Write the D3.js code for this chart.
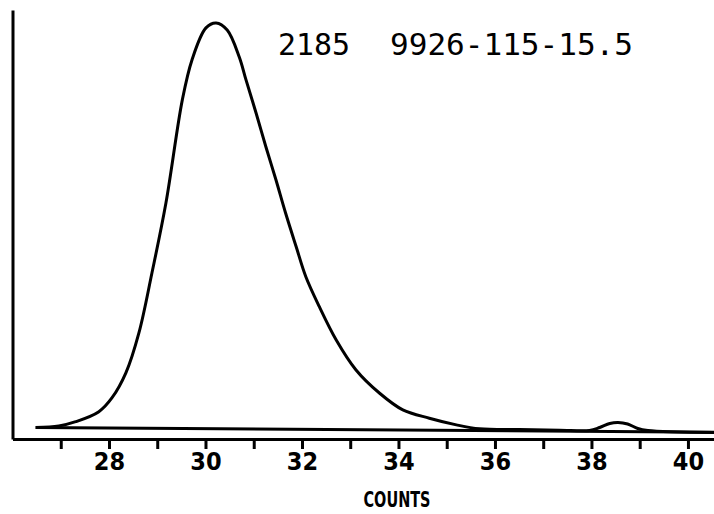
<!DOCTYPE html>
<html>
<head>
<meta charset="utf-8">
<script src="https://cdn.jsdelivr.net/npm/d3@7"></script>
<style>
  html, body { margin: 0; padding: 0; background: #fff; }
  svg { display: block; }
</style>
</head>
<body>
<svg id="chart" width="714" height="514"></svg>
<script>
// ---- data ----
const titleLeft = "2185";
const titleRight = "9926-115-15.5";
const xLabel = "COUNTS";
const tickValues = [27, 28, 29, 30, 31, 32, 33, 34, 35, 36, 37, 38, 39, 40];
const tickLabels = ["", "28", "", "30", "", "32", "", "34", "", "36", "", "38", "", "40"];

const counts = [26.48, 26.96, 27.31, 27.79, 28.06, 28.35, 28.62, 28.89, 29.18, 29.52, 29.72, 30.01, 30.22, 30.45, 30.70, 30.84, 31.05, 31.25, 31.46, 31.66, 31.88, 32.08, 32.36, 32.71, 33.12, 33.61, 34.09, 34.64, 35.20, 35.68, 36.51, 37.34, 37.96, 38.17, 38.38, 38.55, 38.75, 38.96, 39.17, 40.54];
const response = [2.76, 3.13, 4.16, 6.56, 9.86, 15.9, 25.5, 39.9, 56.7, 81.5, 91.1, 98.8, 100, 98.3, 91.8, 86.3, 78.3, 70.3, 62.3, 54.3, 46.2, 39.0, 31.8, 23.8, 16.6, 11.0, 7.0, 5.0, 3.4, 2.45, 2.26, 2.12, 2.04, 2.76, 3.73, 3.97, 3.61, 2.52, 2.04, 1.56];

const baselineCounts = [26.48, 40.54];
const baselineResponse = [2.76, 1.61];

// ---- chart ----
const svg = d3.select("#chart");
const x = d3.scaleLinear().domain([26, 40.54]).range([12.5, 714]);
const y = d3.scaleLinear().domain([0, 103.1]).range([439, 10]);

// y axis (no ticks)
const yAxis = svg.append("g")
  .attr("transform", `translate(${x(26)},0)`)
  .call(d3.axisLeft(y).tickValues([]).tickSizeOuter(0));
yAxis.select(".domain").attr("stroke", "#000").attr("stroke-width", 3);

// x axis
const xAxis = svg.append("g")
  .attr("transform", `translate(0,${y(0)})`)
  .call(d3.axisBottom(x)
    .tickValues(tickValues)
    .tickSize(10)
    .tickSizeOuter(0)
    .tickFormat((d, i) => tickLabels[i]));
xAxis.select(".domain").attr("stroke", "#000").attr("stroke-width", 3);
xAxis.selectAll(".tick line").attr("stroke", "#000").attr("stroke-width", 3);
xAxis.selectAll(".tick text")
  .attr("y", 31).attr("dy", 0)
  .attr("fill", "#000")
  .style("font-family", "'Liberation Sans Narrow', 'DejaVu Sans Condensed', 'Arial Narrow', sans-serif")
  .style("font-weight", "bold")
  .style("font-size", "25px");

// baseline
const pts = counts.map((c, i) => [c, response[i]]);
const basePts = baselineCounts.map((c, i) => [c, baselineResponse[i]]);
const line = d3.line().x(d => x(d[0])).y(d => y(d[1]));

svg.append("path")
  .attr("d", line(basePts))
  .attr("fill", "none").attr("stroke", "#000").attr("stroke-width", 3);

// curve
svg.append("path")
  .attr("d", line.curve(d3.curveCatmullRom.alpha(0.5))(pts))
  .attr("fill", "none").attr("stroke", "#000").attr("stroke-width", 3)
  .attr("stroke-linejoin", "round");

// title
svg.append("text")
  .attr("x", 278).attr("y", 55)
  .attr("textLength", 72).attr("lengthAdjust", "spacingAndGlyphs")
  .style("font-family", "'DejaVu Sans Mono', monospace")
  .style("font-size", "31px")
  .attr("fill", "#000")
  .text(titleLeft);
svg.append("text")
  .attr("x", 390).attr("y", 55)
  .attr("textLength", 243).attr("lengthAdjust", "spacingAndGlyphs")
  .style("font-family", "'DejaVu Sans Mono', monospace")
  .style("font-size", "31px")
  .attr("fill", "#000")
  .text(titleRight);

// x label
svg.append("text")
  .attr("x", 397).attr("y", 507)
  .attr("text-anchor", "middle")
  .attr("textLength", 67).attr("lengthAdjust", "spacingAndGlyphs")
  .style("font-family", "'Liberation Sans Narrow', 'DejaVu Sans Condensed', 'Arial Narrow', sans-serif")
  .style("font-weight", "bold")
  .style("font-size", "21px")
  .attr("fill", "#000")
  .text(xLabel);
</script>
</body>
</html>
